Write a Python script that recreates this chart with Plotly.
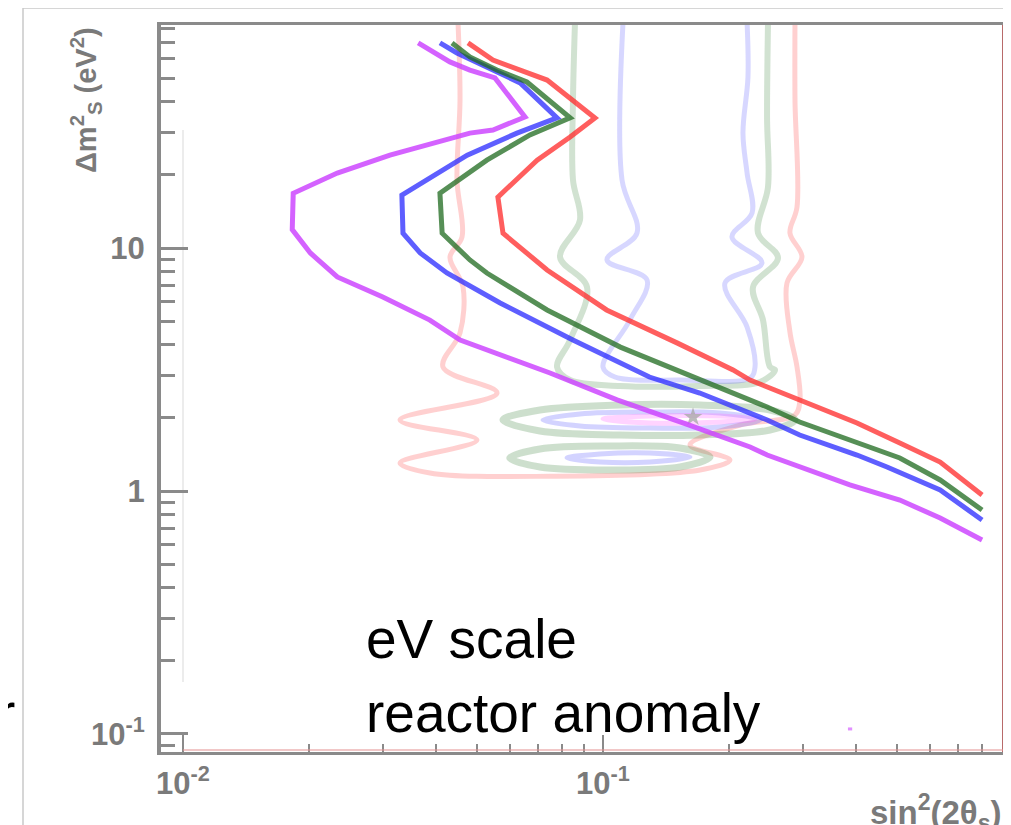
import plotly.graph_objects as go

# ---------------- data (sin^2(2theta), delta m^2 [eV^2]) ----------------
# thick sensitivity curves
mag_x = [0.0363, 0.0432, 0.0482, 0.0553, 0.0652, 0.0547, 0.0482, 0.0311, 0.0233, 0.0183, 0.0182,
         0.0201, 0.0233, 0.0299, 0.0387, 0.0457, 0.0748, 0.108, 0.155, 0.224, 0.246, 0.387, 0.509, 0.635, 0.799]
mag_y = [69.8, 58.3, 54.0, 50.1, 34.6, 30.6, 29.7, 24.1, 20.35, 16.8, 11.9,
         9.54, 7.60, 6.29, 5.05, 4.18, 3.06, 2.37, 1.905, 1.517, 1.406, 1.059, 0.918, 0.774, 0.6285]

blue_x = [0.0409, 0.0449, 0.0547, 0.0635, 0.0777, 0.0624, 0.0475, 0.0403, 0.0332, 0.0334, 0.0367,
          0.0425, 0.0569, 0.0848, 0.129, 0.170, 0.246, 0.294, 0.4025, 0.4745, 0.635, 0.799]
blue_y = [69.8, 63.5, 54.0, 47.8, 34.3, 29.7, 24.1, 20.35, 16.5, 11.5, 9.54,
          7.89, 5.94, 4.18, 2.945, 2.53, 1.96, 1.70, 1.406, 1.255, 1.009, 0.760]

green_x = [0.0437, 0.0482, 0.0559, 0.0659, 0.0835, 0.0670, 0.0529, 0.0409, 0.0414, 0.0482, 0.0529,
           0.0736, 0.110, 0.164, 0.246, 0.294, 0.4025, 0.509, 0.635, 0.799]
green_y = [69.8, 61.1, 54.0, 48.2, 34.3, 29.2, 23.0, 16.8, 11.5, 8.93, 7.89,
           5.56, 3.91, 2.945, 2.217, 1.923, 1.591, 1.367, 1.11, 0.835]

red_x = [0.0477, 0.0547, 0.0736, 0.0957, 0.0835, 0.0697, 0.0562, 0.0578, 0.0736, 0.102, 0.150,
         0.204, 0.2239, 0.294, 0.4025, 0.509, 0.635, 0.799]
red_y = [69.8, 59.4, 49.1, 34.3, 28.6, 23.0, 16.2, 11.5, 8.12, 5.56, 4.07,
         3.15, 2.862, 2.37, 1.905, 1.576, 1.316, 0.963]

# faint allowed-region contours (reactor anomaly)
fred_x = [0.04516, 0.04566, 0.04491, 0.04617, 0.04322, 0.04642, 0.04566, 0.04159, 0.05594, 0.03286,
          0.05012, 0.03286, 0.03874, 0.0748, 0.1702, 0.2006, 0.1611, 0.2120, 0.2865, 0.2944,
          0.2897, 0.2787, 0.2742, 0.2977, 0.2787, 0.2897, 0.2865, 0.2865]
fred_y = [85, 40.65, 19.05, 11.10, 9.18, 6.91, 4.47, 3.24, 2.53, 1.96,
          1.622, 1.304, 1.186, 1.15, 1.22, 1.341, 1.547, 1.868, 2.055, 2.369,
          3.238, 4.508, 7.178, 9.18, 11.53, 14.75, 40.65, 85]

fgreen_x = [0.08577, 0.08483, 0.08483, 0.08814, 0.07901, 0.09161, 0.08347, 0.07772, 0.08347, 0.1098,
            0.1702, 0.2365, 0.2568, 0.2498, 0.2404, 0.2276, 0.2610, 0.2339, 0.2471, 0.2458, 0.2471]
fgreen_y = [85, 40.65, 19.05, 13.04, 9.18, 6.91, 4.18, 3.24, 2.862, 2.705,
            2.705, 2.809, 3.147, 3.24, 5.054, 6.91, 9.10, 11.53, 17.82, 34.6, 85]

fblue_x = [0.1116, 0.1110, 0.1205, 0.1022, 0.1273, 0.1159, 0.1000, 0.1068, 0.1525, 0.2239,
           0.2301, 0.2203, 0.1952, 0.2391, 0.2028, 0.2264, 0.2203, 0.2154, 0.2214, 0.2203]
fblue_y = [85, 19.05, 11.53, 8.93, 7.385, 5.054, 3.24, 2.945, 2.862, 2.917,
           3.24, 4.731, 7.178, 8.675, 11.10, 13.93, 20.35, 29.74, 50.5, 85]

gisl1_x = [0.05779, 0.07079, 0.1098, 0.1702, 0.2498, 0.2865, 0.2498, 0.1702, 0.1098, 0.07079, 0.05779]
gisl1_y = [1.96, 2.154, 2.259, 2.259, 2.154, 1.96, 1.782, 1.70, 1.70, 1.766, 1.96]

gisl2_x = [0.0600, 0.07079, 0.1039, 0.1525, 0.1798, 0.1525, 0.1039, 0.07079, 0.0600]
gisl2_y = [1.367, 1.489, 1.532, 1.503, 1.380, 1.255, 1.220, 1.255, 1.367]

bisl1_x = [0.07197, 0.08814, 0.1294, 0.1899, 0.2365, 0.1899, 0.1294, 0.08814, 0.07197]
bisl1_y = [1.96, 2.075, 2.114, 2.094, 1.96, 1.834, 1.816, 1.851, 1.96]

bisl2_x = [0.0821, 0.09836, 0.1294, 0.1611, 0.1294, 0.09836, 0.0821]
bisl2_y = [1.367, 1.420, 1.434, 1.380, 1.316, 1.316, 1.367]

pisl_x = [0.1000, 0.1294, 0.1899, 0.2301, 0.1899, 0.1294, 0.1000]
pisl_y = [1.979, 2.035, 2.035, 1.979, 1.923, 1.905, 1.979]

best_x = [0.1638]
best_y = [2.016]

stray_x = [0.383, 0.392]
stray_y = [0.1049, 0.1049]

x_tickvals = [0.01, 0.1]
x_ticktext = ["10<sup>-2</sup>", "10<sup>-1</sup>"]
y_tickvals = [0.1, 1, 10]
y_ticktext = ["10<sup>-1</sup>", "1", "10"]
x_minor = [0.02, 0.03, 0.04, 0.05, 0.06, 0.07, 0.08, 0.09, 0.2, 0.3, 0.4, 0.5, 0.6, 0.7, 0.8]
y_minor = [0.09, 0.2, 0.3, 0.4, 0.5, 0.6, 0.7, 0.8, 0.9, 2, 3, 4, 5, 6, 7, 8, 9,
           20, 30, 40, 50, 60, 70, 80]

# ---------------- figure ----------------
OFF = 8                      # default page body margin
W, H = 1011 - OFF, 825 - OFF
ML, MR, MT, MB = 161 - OFF, 8, 25 - OFF, 73
PW, PH = W - ML - MR, H - MT - MB


def px(xp):                  # page pixel -> paper x
    return (xp - OFF - ML) / PW


def py(yp):                  # page pixel -> paper y
    return (H - MB - (yp - OFF)) / PH


fig = go.Figure()

faint = [
    (fred_x, fred_y, "rgba(255,110,110,0.32)", 5),
    (fgreen_x, fgreen_y, "rgba(90,150,90,0.28)", 6),
    (fblue_x, fblue_y, "rgba(110,110,255,0.28)", 5),
    (gisl1_x, gisl1_y, "rgba(90,150,90,0.30)", 7),
    (gisl2_x, gisl2_y, "rgba(90,150,90,0.30)", 7),
    (bisl1_x, bisl1_y, "rgba(110,110,255,0.30)", 5),
    (bisl2_x, bisl2_y, "rgba(110,110,255,0.30)", 5),
    (pisl_x, pisl_y, "rgba(255,110,255,0.30)", 5),
]
for xs, ys, col, w in faint:
    fig.add_trace(go.Scatter(x=xs, y=ys, mode="lines",
                             line=dict(color=col, width=w, shape="spline", smoothing=1.0),
                             hoverinfo="skip", showlegend=False))

fig.add_trace(go.Scatter(x=best_x, y=best_y, mode="markers",
                         marker=dict(symbol="star", size=14, color="rgba(170,170,170,0.8)"),
                         showlegend=False))

main = [
    (mag_x, mag_y, "rgba(205,70,255,0.85)"),
    (blue_x, blue_y, "rgba(40,40,255,0.75)"),
    (green_x, green_y, "rgba(30,105,30,0.75)"),
    (red_x, red_y, "rgba(255,40,40,0.75)"),
]
for xs, ys, col in main:
    fig.add_trace(go.Scatter(x=xs, y=ys, mode="lines", line=dict(color=col, width=5),
                             showlegend=False))

fig.add_trace(go.Scatter(x=stray_x, y=stray_y, mode="lines",
                         line=dict(color="rgba(205,70,255,0.6)", width=3), showlegend=False))

axis_gray = "#8a8a8a"
tickfont = dict(family="Liberation Sans, Arial", size=31, color="#7a7a7a", weight="bold")

fig.update_xaxes(type="log", range=[-2.0524, -0.0476],
                 tickmode="array", tickvals=x_tickvals, ticktext=x_ticktext,
                 ticks="inside", ticklen=17, tickwidth=2, tickcolor=axis_gray,
                 minor=dict(tickmode="array", tickvals=x_minor, ticks="inside",
                            ticklen=8, tickwidth=2, tickcolor=axis_gray, showgrid=False),
                 showline=True, linecolor=axis_gray, linewidth=3, mirror=True,
                 showgrid=False, zeroline=False, tickfont=tickfont, ticklabelstandoff=2)
fig.update_yaxes(type="log", range=[-1.0741, 1.9177],
                 tickmode="array", tickvals=y_tickvals, ticktext=y_ticktext,
                 ticks="inside", ticklen=27, tickwidth=3, tickcolor=axis_gray,
                 minor=dict(tickmode="array", tickvals=y_minor, ticks="inside",
                            ticklen=14, tickwidth=3, tickcolor=axis_gray, showgrid=False),
                 showline=True, linecolor=axis_gray, linewidth=4,
                 showgrid=False, zeroline=False, tickfont=tickfont, ticklabelstandoff=6)

shapes = [
    # right frame (reddish)
    dict(type="line", xref="paper", yref="paper", x0=1, x1=1, y0=0, y1=1,
         line=dict(color="#b86a6a", width=2)),
    # pinkish line above bottom axis
    dict(type="line", xref="paper", yref="paper", x0=px(183), x1=1, y0=py(750), y1=py(750),
         line=dict(color="rgba(230,150,150,0.7)", width=1.5)),
    # faint inner vertical guide
    dict(type="line", xref="x", yref="y", x0=0.01, x1=0.01, y0=0.1637, y1=30.6,
         line=dict(color="#ececec", width=2), layer="below"),
    # slide frame lines
    dict(type="line", xref="paper", yref="paper", x0=px(23), x1=px(1011), y0=py(8), y1=py(8),
         line=dict(color="#c8c8c8", width=1.5)),
    dict(type="line", xref="paper", yref="paper", x0=px(23), x1=px(23), y0=py(8), y1=py(825),
         line=dict(color="#c8c8c8", width=1.5)),
]

ann_font = dict(family="Liberation Sans, Arial", size=55, color="black")
annotations = [
    dict(text="eV scale", xref="paper", yref="paper", x=px(364), y=py(639),
         xanchor="left", yanchor="middle", showarrow=False, font=ann_font),
    dict(text="reactor anomaly", xref="paper", yref="paper", x=px(364), y=py(713),
         xanchor="left", yanchor="middle", showarrow=False, font=ann_font),
    dict(text="r", xref="paper", yref="paper", x=px(17), y=py(713),
         xanchor="right", yanchor="middle", showarrow=False, font=ann_font),
    dict(text="Δm<sup>2</sup><sub>S</sub> (eV<sup>2</sup>)", xref="paper", yref="paper",
         x=px(86), y=py(100), xanchor="center", yanchor="middle", textangle=-90,
         showarrow=False,
         font=dict(family="Liberation Sans, Arial", size=29, color="#7a7a7a", weight="bold")),
    dict(text="sin<sup>2</sup>(2θ<sub>s</sub>)", xref="paper", yref="paper",
         x=px(1004), y=py(812), xanchor="right", yanchor="middle", showarrow=False,
         font=dict(family="Liberation Sans, Arial", size=33, color="#7a7a7a", weight="bold")),
]

fig.update_layout(width=W, height=H, autosize=False,
                  margin=dict(l=ML, r=MR, t=MT, b=MB),
                  paper_bgcolor="white", plot_bgcolor="white",
                  showlegend=False, shapes=shapes, annotations=annotations)

fig.write_html("out.html")
